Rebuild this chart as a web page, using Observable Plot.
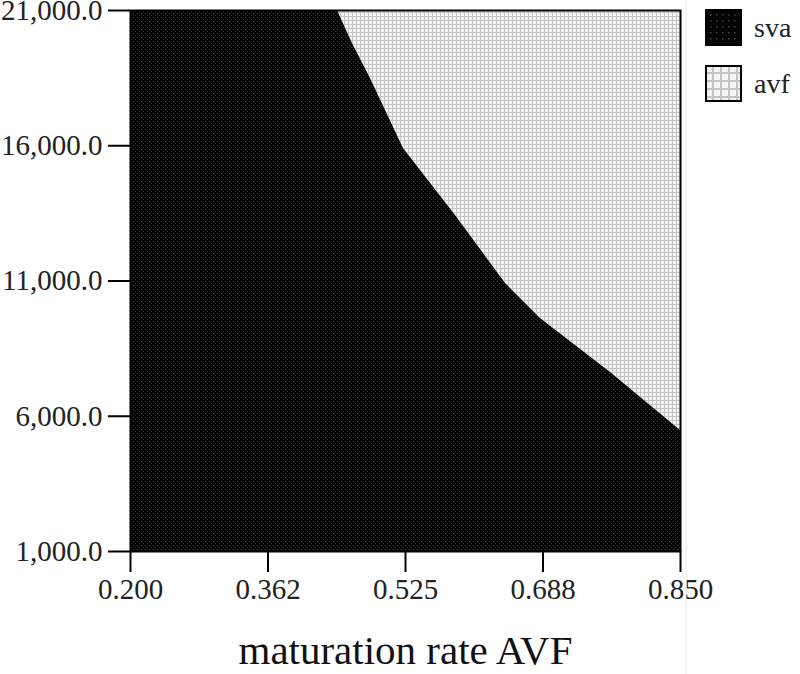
<!DOCTYPE html>
<html>
<head>
<meta charset="utf-8">
<script src="https://cdn.jsdelivr.net/npm/d3@7"></script>
<script src="https://cdn.jsdelivr.net/npm/@observablehq/plot@0.6"></script>
<style>
  html, body { margin: 0; padding: 0; background: #fff; }
  #chart { width: 800px; height: 674px; overflow: hidden; }
</style>
</head>
<body>
<div id="chart"></div>
<script>
// Boundary between regions (maturation rate AVF vs. y value)
const boundaryX = [0.2, 0.4446, 0.462, 0.4836, 0.5226, 0.5841, 0.6432, 0.6845, 0.7673, 0.85];
const boundaryY = [21000, 21000, 19800, 18486, 15898, 13422, 10908, 9614, 7617, 5473];

const xTicks = [0.2, 0.3625, 0.525, 0.6875, 0.85];
const xTickLabels = ["0.200", "0.362", "0.525", "0.688", "0.850"];
const yTicks = [1000, 6000, 11000, 16000, 21000];
const yTickLabels = ["1,000.0", "6,000.0", "11,000.0", "16,000.0", "21,000.0"];

const legendLabels = ["sva", "avf"];
const xLabel = "maturation rate AVF";

const boundary = boundaryX.map((x, i) => ({x, y: boundaryY[i]}));

const font = "'Liberation Serif', 'Times New Roman', serif";

const svg = Plot.plot({
  width: 800,
  height: 674,
  marginLeft: 130,
  marginRight: 120,
  marginTop: 10,
  marginBottom: 123,
  style: {fontFamily: font, fontSize: "28px", background: "#fff", overflow: "visible"},
  x: {domain: [0.2, 0.85]},
  y: {domain: [1000, 21000]},
  marks: [
    Plot.areaY(boundary, {x: "x", y1: "y", y2: 21000, fill: "url(#avfPat)"}),
    Plot.areaY(boundary, {x: "x", y1: 1000, y2: "y", fill: "url(#svaPat)"}),
    Plot.frame({stroke: "#000", strokeWidth: 2}),
    Plot.axisX({
      ticks: xTicks,
      tickFormat: (d, i) => xTickLabels[i],
      tickSize: 21,
      tickPadding: 6,
      strokeWidth: 2,
      label: null,
      fontSize: 29,
      fill: "#222"
    }),
    Plot.axisY({
      ticks: yTicks,
      tickFormat: (d, i) => yTickLabels[i],
      tickSize: 22,
      tickPadding: 6,
      strokeWidth: 2,
      label: null,
      fontSize: 29,
      fill: "#222"
    }),
    Plot.text([xLabel], {
      text: d => d,
      frameAnchor: "bottom",
      dy: 112,
      fontSize: 41,
      fill: "#111"
    })
  ]
});

// Patterns
const s = d3.select(svg);
const defs = s.insert("defs", ":first-child");
const sva = defs.append("pattern").attr("id", "svaPat").attr("patternUnits", "userSpaceOnUse")
  .attr("width", 4).attr("height", 4);
sva.append("rect").attr("width", 4).attr("height", 4).attr("fill", "#050505");
sva.append("rect").attr("x", 1).attr("y", 1).attr("width", 1).attr("height", 1).attr("fill", "#3a3a3a");
sva.append("rect").attr("x", 3).attr("y", 3).attr("width", 1).attr("height", 1).attr("fill", "#2a2a2a");

const avf = defs.append("pattern").attr("id", "avfPat").attr("patternUnits", "userSpaceOnUse")
  .attr("width", 4).attr("height", 4);
avf.append("rect").attr("width", 4).attr("height", 4).attr("fill", "#c4c4c4");
avf.append("rect").attr("x", 1).attr("y", 1).attr("width", 3).attr("height", 3).attr("fill", "#f4f4f4");

const svaL = defs.append("pattern").attr("id", "svaLegPat").attr("patternUnits", "userSpaceOnUse")
  .attr("width", 6).attr("height", 6);
svaL.append("rect").attr("width", 6).attr("height", 6).attr("fill", "#050505");
svaL.append("rect").attr("x", 2).attr("y", 2).attr("width", 1.5).attr("height", 1.5).attr("fill", "#444");

const avfL = defs.append("pattern").attr("id", "avfLegPat").attr("patternUnits", "userSpaceOnUse")
  .attr("width", 8).attr("height", 8);
avfL.append("rect").attr("width", 8).attr("height", 8).attr("fill", "#c4c4c4");
avfL.append("rect").attr("x", 2).attr("y", 2).attr("width", 6).attr("height", 6).attr("fill", "#f4f4f4");

// faint panel separator to the right of the plot
s.append("line").attr("x1", 686).attr("x2", 686).attr("y1", 0).attr("y2", 674)
  .attr("stroke", "#e6e6e6").attr("stroke-width", 1);

// Legend
const fills = ["url(#svaLegPat)", "url(#avfLegPat)"];
const lg = s.append("g").attr("font-family", font).attr("font-size", 28).attr("text-anchor", "start");
legendLabels.forEach((lab, i) => {
  const y0 = 10 + i * 56;
  lg.append("rect").attr("x", 706).attr("y", y0).attr("width", 35).attr("height", 35)
    .attr("fill", fills[i]).attr("stroke", "#000").attr("stroke-width", 2);
  lg.append("text").attr("x", 754).attr("y", y0 + 18).attr("dy", "0.32em")
    .attr("text-anchor", "start").attr("fill", "#222").text(lab);
});

document.getElementById("chart").appendChild(svg);
</script>
</body>
</html>
